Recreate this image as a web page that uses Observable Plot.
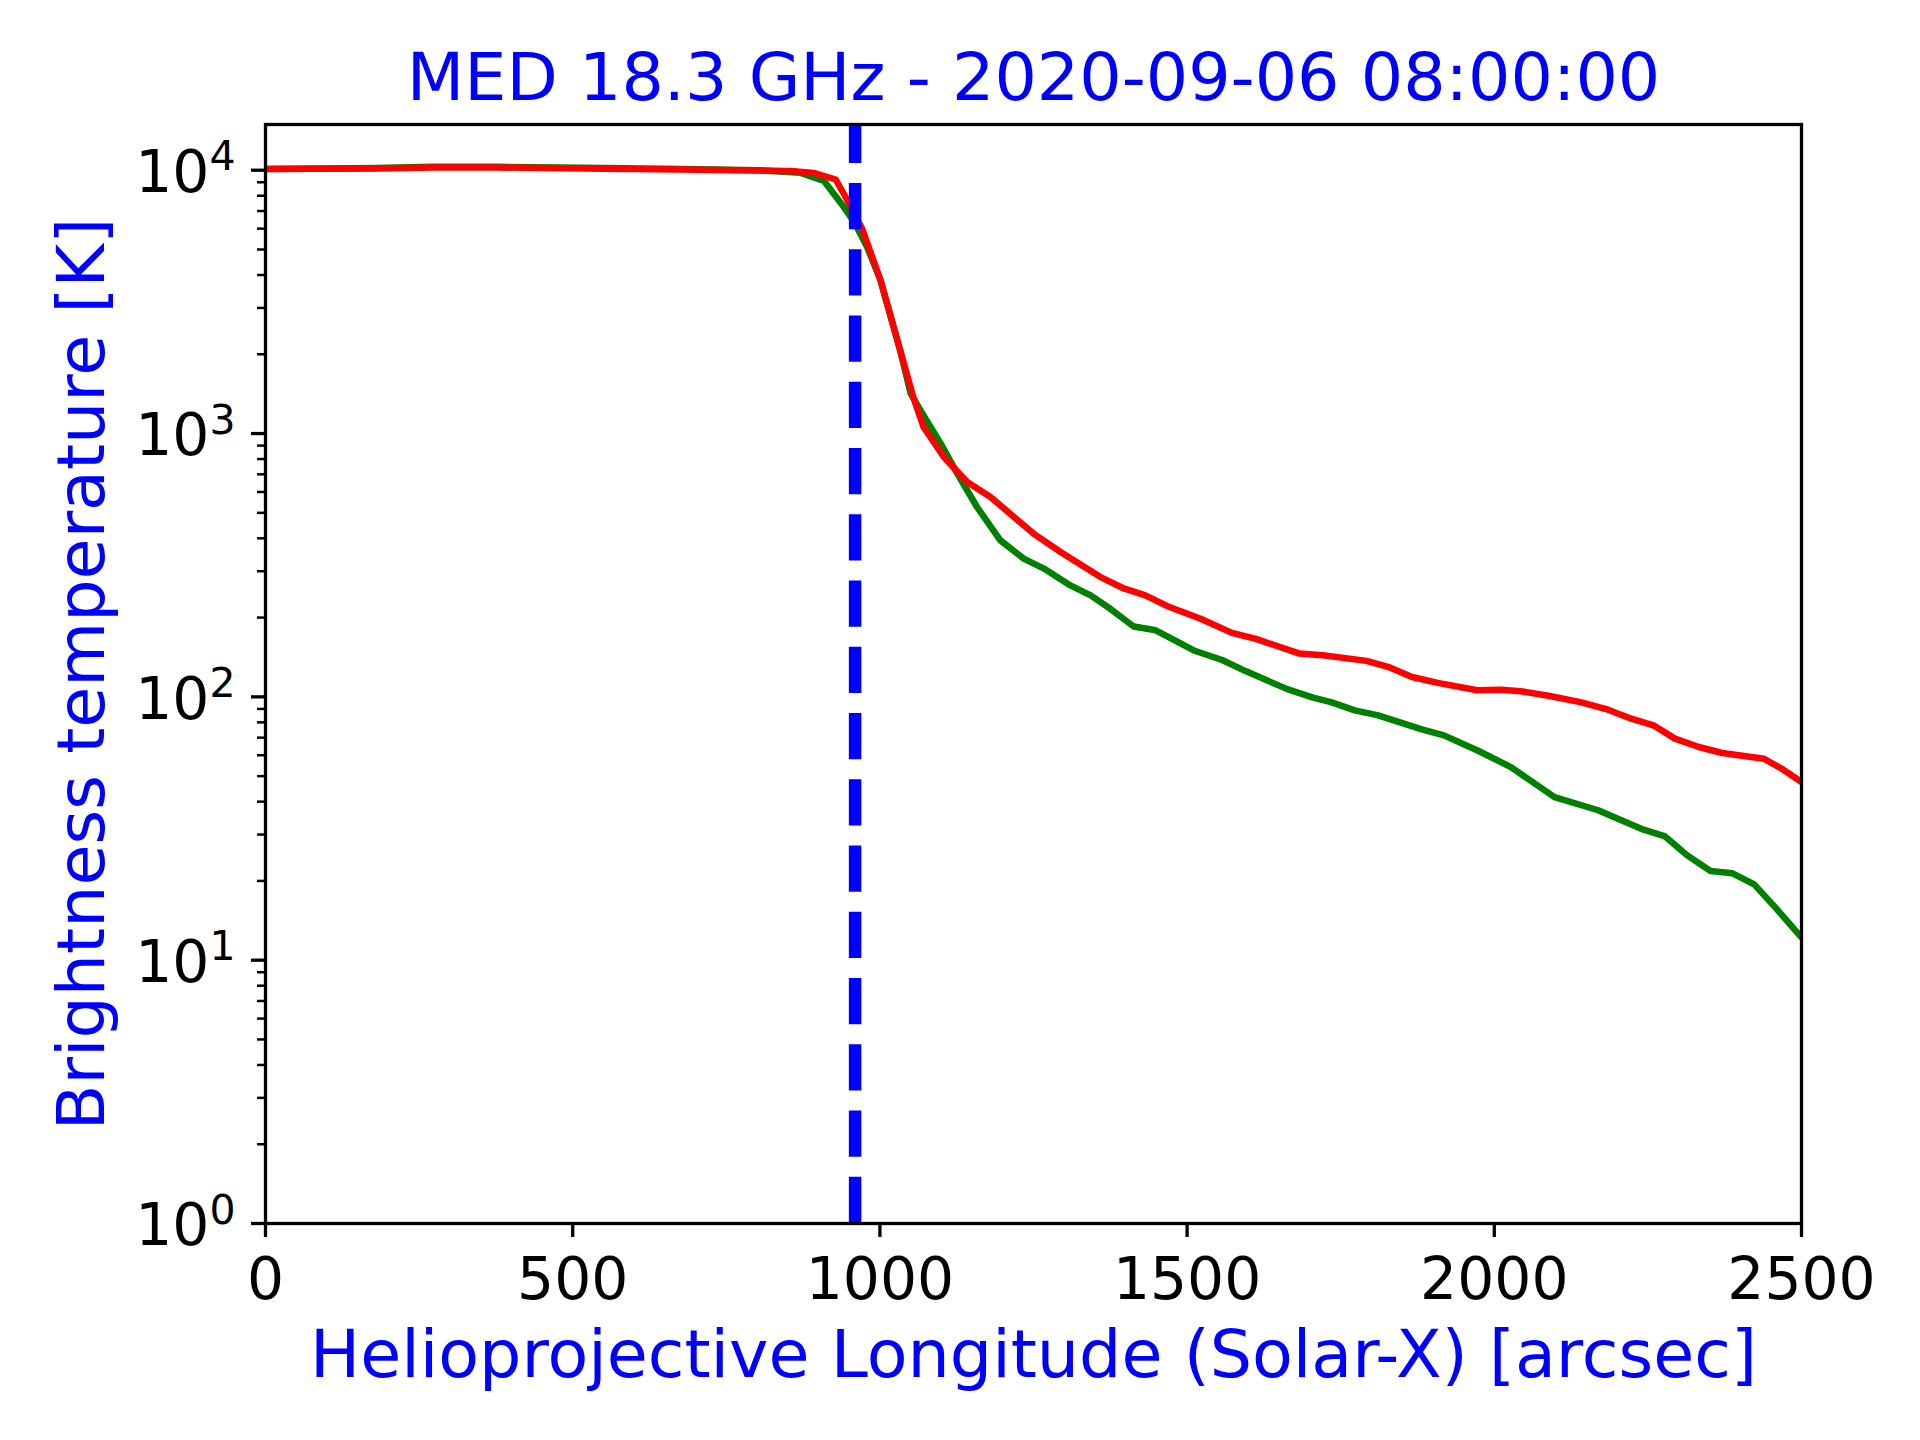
<!DOCTYPE html>
<html>
<head>
<meta charset="utf-8">
<script src="https://cdn.jsdelivr.net/npm/d3@7"></script>
<script src="https://cdn.jsdelivr.net/npm/@observablehq/plot@0.6"></script>
<style>
  html, body { margin: 0; padding: 0; background: #ffffff; }
</style>
</head>
<body>
<div id="chart"></div>
<script>
// ---- data ----
const redX = [0, 180, 272, 378, 552, 677, 802, 864, 892, 928,
  947, 971, 1001, 1033, 1055, 1071, 1104, 1142, 1180, 1250,
  1294, 1359, 1397, 1432, 1468, 1522, 1573, 1612, 1683, 1721,
  1792, 1827, 1866, 1908, 1972, 2011, 2043, 2088, 2140, 2185,
  2223, 2259, 2294, 2333, 2371, 2439, 2468, 2500];
const redT = [10100, 10150, 10240, 10240, 10130, 10060, 9980, 9900, 9770, 9220,
  7690, 6000, 3820, 2070, 1358, 1059, 815, 655, 574, 417,
  355, 285, 258, 243, 221, 198, 175, 166, 146, 144,
  137, 130, 119, 113, 106, 106.5, 105, 101, 95.5, 89.4,
  82.6, 78, 69.4, 64.5, 61.2, 58.2, 53.3, 47.5];

const greenX = [0, 180, 272, 378, 552, 677, 802, 871, 909, 941,
  958, 979, 1001, 1033, 1050, 1066, 1099, 1126, 1158, 1196,
  1234, 1267, 1310, 1343, 1375, 1413, 1449, 1511, 1557, 1596,
  1663, 1705, 1734, 1773, 1811, 1882, 1918, 1972, 2027, 2098,
  2169, 2204, 2243, 2278, 2314, 2352, 2387, 2423, 2458, 2500];
const greenT = [10100, 10200, 10300, 10300, 10200, 10100, 10000, 9770, 9100, 7260,
  6370, 5120, 3820, 2070, 1420, 1225, 916, 704, 526, 393,
  335, 307, 265, 243, 216, 185, 179, 150, 138, 125,
  107, 99.3, 95.5, 88.9, 85.1, 75.3, 71.4, 62.7, 54.1, 41.6,
  37.1, 34.2, 31.3, 29.5, 25.0, 21.8, 21.4, 19.4, 15.8, 12.2];

const limbX = [959.63];

const xTicks = [0, 500, 1000, 1500, 2000, 2500];
const yMajor = [1, 10, 100, 1000, 10000];
const yMinor = [2, 3, 4, 5, 6, 7, 8, 9,
  20, 30, 40, 50, 60, 70, 80, 90,
  200, 300, 400, 500, 600, 700, 800, 900,
  2000, 3000, 4000, 5000, 6000, 7000, 8000, 9000];

const xDomain = [0, 2500];
const yDomain = [1, 14915];

const titleText = "MED 18.3 GHz - 2020-09-06 08:00:00";
const xLabelText = "Helioprojective Longitude (Solar-X) [arcsec]";
const yLabelText = "Brightness temperature [K]";

// ---- tables built from the arrays ----
const red = redX.map((x, i) => ({x, t: redT[i]}));
const green = greenX.map((x, i) => ({x, t: greenT[i]}));

const svg = Plot.plot({
  width: 1920,
  height: 1440,
  marginLeft: 265,
  marginRight: 119,
  marginTop: 124,
  marginBottom: 217,
  style: {
    fontFamily: "'DejaVu Sans', sans-serif",
    fontSize: "58.3px",
    color: "#000000",
    background: "#ffffff",
    overflow: "visible"
  },
  x: {domain: xDomain},
  y: {type: "log", domain: yDomain},
  marks: [
    Plot.line(green, {x: "x", y: "t", stroke: "#008000", strokeWidth: 6.5, clip: true}),
    Plot.line(red, {x: "x", y: "t", stroke: "#ff0000", strokeWidth: 6.5, clip: true}),
    Plot.ruleX(limbX, {x: d => d, y1: yDomain[0], y2: yDomain[1], stroke: "#0000ff",
      strokeWidth: 12.5, strokeDasharray: "46.25,20"}),
    Plot.frame({stroke: "#000000", strokeWidth: 3.3}),
    Plot.axisX({ticks: xTicks, tickSize: 14, tickPadding: 20, strokeWidth: 3.3,
      tickFormat: d => String(d), label: null}),
    Plot.axisY({ticks: yMinor, tickSize: 8, strokeWidth: 2.5, tickFormat: () => "", label: null}),
    Plot.axisY({ticks: yMajor, tickSize: 14, tickPadding: 16, strokeWidth: 3.3,
      tickFormat: d => "10^" + Math.round(Math.log10(d)), label: null}),
    Plot.text([titleText], {text: d => d, frameAnchor: "top", dy: -25, lineAnchor: "bottom",
      textAnchor: "middle", fontSize: 66.7, fill: "#0000ff"}),
    Plot.text([xLabelText], {text: d => d, frameAnchor: "bottom", dy: 153, lineAnchor: "bottom",
      textAnchor: "middle", fontSize: 66.7, fill: "#0000ff"}),
    Plot.text([yLabelText], {text: d => d, frameAnchor: "left", dx: -162, rotate: -90,
      textAnchor: "middle", lineAnchor: "bottom", fontSize: 66.7, fill: "#0000ff"})
  ]
});

// turn "10^k" tick labels into 10 with a superscript exponent
const ns = "http://www.w3.org/2000/svg";
d3.select(svg).selectAll('g[aria-label="y-axis tick label"] text').each(function () {
  const t = this.textContent;
  if (t.includes("^")) {
    const [base, exp] = t.split("^");
    this.textContent = base;
    this.setAttribute("y", "21.7");
    const ts = document.createElementNS(ns, "tspan");
    ts.setAttribute("dy", "-21.7");
    ts.setAttribute("font-size", "41");
    ts.textContent = exp;
    this.appendChild(ts);
  }
});

document.getElementById("chart").appendChild(svg);
</script>
</body>
</html>
